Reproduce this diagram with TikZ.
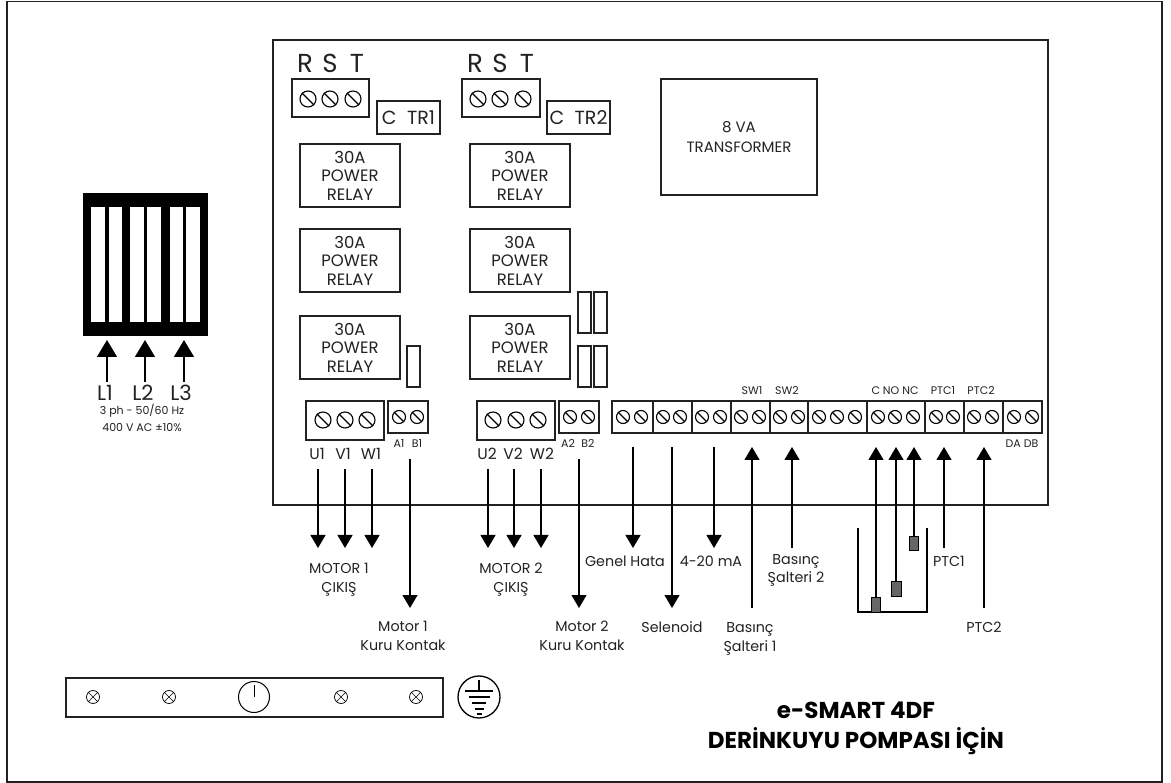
\documentclass[tikz,border=0pt]{standalone}
\usepackage{fontspec}
\setmainfont{Poppins}
\usetikzlibrary{arrows.meta}
\definecolor{ink}{HTML}{222222}
\tikzset{
  x=1pt,y=-1pt,
  boxn/.style={draw=ink,line width=1.3pt,inner sep=0pt,align=center,text=ink},
  boardn/.style={line width=1.1pt},
  relayfont/.style={font=\fontsize{16.5}{18.5}\selectfont},
  tagfont/.style={font=\fontsize{19}{20}\selectfont},
  trafofont/.style={font=\fontsize{15}{20}\selectfont},
  screwn/.style={circle,draw=black,line width=1.1pt,inner sep=0pt},
  smallscrew/.style={circle,draw=black,line width=0.7pt,inner sep=0pt,minimum size=13pt},
  txt/.style={anchor=base,align=center,inner sep=0pt,text=ink,font=\fontsize{14.3}{18.5}\selectfont},
  big/.style={txt,font=\fontsize{21}{24}\selectfont},
  rst/.style={txt,font=\fontsize{26}{28}\selectfont},
  uvw/.style={txt,font=\fontsize{15.5}{18}\selectfont},
  tiny/.style={txt,font=\fontsize{11}{13}\selectfont},
  wire/.style={draw=black,line width=1.2pt},
  arr/.style={wire,-{Triangle[length=13pt,width=15pt]}},
  arrbig/.style={wire,-{Triangle[length=17pt,width=20pt]}},
  floatn/.style={boxn,draw=black,fill=black!60,line width=1pt},
  titlen/.style={anchor=base,align=center,inner sep=0pt,font=\fontsize{23}{30}\selectfont\bfseries},
}
% [style], name, x1, y1, x2, y2, text
\newcommand{\bx}[6][]{\node[boxn,#1,minimum width=#5pt-#3pt,minimum height=#6pt-#4pt] (#2) at ({(#3+#5)/2},{(#4+#6)/2})}
\newcommand{\scr}[4]{\node[screwn,minimum size=#4pt] (#1) at (#2,#3) {};\draw[line width=1.1pt] (#1.135) -- (#1.-45);}
\begin{document}
\begin{tikzpicture}
\useasboundingbox (0,0) rectangle (1171,783);
\fill[white] (0,0) rectangle (1171,783);
\bx{frame}{7}{1.5}{1162}{782} {};
\bx[boardn]{board}{273}{40}{1048}{505} {};
% left breaker
\node[fill=black,minimum width=125pt,minimum height=143pt,inner sep=0pt] (brk) at (145.5,264.5) {};
\foreach \n/\a/\b in {a/91/105,b/108.5/121.7,c/130.3/143.7,d/147/160.7,e/169.7/182.7,f/186/200}{
  \node[fill=white,minimum width=\b pt-\a pt,minimum height=115pt,inner sep=0pt] (slot\n) at ({(\a+\b)/2},264.5) {};
}
\foreach \n/\x in {1/107,2/145,3/184}{
  \coordinate (Ltip\n) at (\x,340);
  \coordinate (Lend\n) at (\x,382);
  \draw[arrbig] (Lend\n) -- (Ltip\n);
}
\node[big] (L1) at (105,400.5) {L1};
\node[big] (L2) at (143,400.5) {L2};
\node[big] (L3) at (181,400.5) {L3};
\node[tiny] (sup1) at (142,415) {3 ph - 50/60 Hz};
\node[tiny] (sup2) at (142,432) {400 V AC ±10\%};
% RST groups
\node[rst] (R1) at (305,73) {R};
\node[rst] (S1) at (330,73) {S};
\node[rst] (T1) at (357,73) {T};
\node[rst] (R2) at (475,73) {R};
\node[rst] (S2) at (500,73) {S};
\node[rst] (T2) at (527,73) {T};
\bx{rst1}{292}{79}{369}{117} {};
\bx{rst2}{462}{79}{540}{117} {};
\scr{ra}{308}{99}{16}\scr{rb}{330}{99}{16}\scr{rc}{353}{99}{16}
\scr{rd}{478}{99}{16}\scr{re}{500}{99}{16}\scr{rf}{523}{99}{16}
\bx[tagfont]{tr1}{377}{101}{440}{134} {C\hspace{0.55em}TR1};
\bx[tagfont]{tr2}{547}{101}{610}{134} {C\hspace{0.55em}TR2};
% relays
\foreach \n/\a/\b in {1/144/207,2/229/292,3/316/379}{
  \bx[relayfont]{rl\n}{300}{\a}{400}{\b} {30A\\POWER\\RELAY};
  \bx[relayfont]{rr\n}{470}{\a}{570}{\b} {30A\\POWER\\RELAY};
}
\bx{fa}{407}{346}{420}{387} {};
\bx{fb}{578}{346}{591}{387} {};
\bx{fc}{594}{346}{607}{387} {};
\bx{fd}{578}{292}{591}{333} {};
\bx{fe}{594}{292}{607}{333} {};
\bx[trafofont]{trafo}{661}{79}{817}{195} {8 VA\\TRANSFORMER};
% output terminals
\bx{u1box}{306}{401}{384}{440} {};
\bx{a1box}{388}{401}{428}{433} {};
\bx{u2box}{477}{401}{555}{440} {};
\bx{a2box}{559}{401}{599}{433} {};
\scr{ua}{323}{420}{16}\scr{ub}{345}{420}{16}\scr{uc}{367}{420}{16}
\scr{ud}{493}{420}{16}\scr{ue}{516}{420}{16}\scr{uf}{538}{420}{16}
\scr{aa}{399}{417}{13}\scr{ab}{417}{417}{13}\scr{ac}{570}{417}{13}\scr{ad}{588}{417}{13}
\node[uvw] (U1) at (317,460) {U1};
\node[uvw] (V1) at (343,460) {V1};
\node[uvw] (W1) at (371,460) {W1};
\node[uvw] (U2) at (487,460) {U2};
\node[uvw] (V2) at (513,460) {V2};
\node[uvw] (W2) at (542,460) {W2};
\node[tiny] (A1) at (399,448) {A1};
\node[tiny] (B1) at (417,448) {B1};
\node[tiny] (A2) at (568,448) {A2};
\node[tiny] (B2) at (588,448) {B2};
% terminal strip
\bx{strip}{612}{401}{1042}{433} {};
\foreach \n/\x in {a/653,b/692,c/731,d/770,e/808,f/867,g/925,h/964,i/1003}{
  \coordinate (dt\n) at (\x,401); \coordinate (db\n) at (\x,433);
  \draw[draw=ink,line width=1.3pt] (dt\n) -- (db\n);
}
\foreach \n/\x in {1/623,2/641,3/663,4/680,5/702,6/720,7/741,8/759,9/780,10/798,11/819,12/837,13/855,14/878,15/895,16/913,17/936,18/953,19/974,20/992,21/1014,22/1032}{
  \scr{t\n}{\x}{417}{13}
}
\node[tiny] (sw1) at (752,395) {SW1};
\node[tiny] (sw2) at (787,395) {SW2};
\node[tiny] (cnonc) at (895,395) {C NO NC};
\node[tiny] (ptcx1) at (943,395) {PTC1};
\node[tiny] (ptcx2) at (981,395) {PTC2};
\node[tiny] (dadb) at (1022,448) {DA DB};
% motor arrows
\foreach \n/\x/\a/\b in {m1/318/469/548,m2/345/469/548,m3/372/469/548,m4/410/459/608,m5/488/469/548,m6/514/469/548,m7/541/469/548,m8/579/459/608,s1/633/447/548,s2/672/447/608,s3/714/447/548}{
  \coordinate (\n a) at (\x,\a); \coordinate (\n b) at (\x,\b);
  \draw[arr] (\n a) -- (\n b);
}
\foreach \n/\x/\a/\b in {i1/752/447/608,i2/792/447/548,i3/944/447/548,i4/984/447/608}{
  \coordinate (\n a) at (\x,\a); \coordinate (\n b) at (\x,\b);
  \draw[arr] (\n b) -- (\n a);
}
% tank
\coordinate (tka) at (858,528); \coordinate (tkb) at (858,612); \coordinate (tkc) at (927,612); \coordinate (tkd) at (927,528);
\draw[wire] (tka) -- (tkb) -- (tkc) -- (tkd);
\bx[floatn]{fl1}{871.5}{597}{880.5}{612} {};
\bx[floatn]{fl2}{891}{581}{901}{596} {};
\bx[floatn]{fl3}{909.5}{537}{918.5}{551} {};
\coordinate (tipc) at (876,447); \coordinate (tipn) at (896,447); \coordinate (tipo) at (914,447);
\draw[arr] (fl1.north) -- (tipc);
\draw[arr] (fl2.north) -- (tipn);
\draw[arr] (fl3.north) -- (tipo);
% labels (anchor is the baseline of the last line)
\node[txt] (lm1) at (339,592) {MOTOR 1\\ÇIKIŞ};
\node[txt] (lm2) at (511,592) {MOTOR 2\\ÇIKIŞ};
\node[txt] (lk1) at (403,650) {Motor 1\\Kuru Kontak};
\node[txt] (lk2) at (582,650) {Motor 2\\Kuru Kontak};
\node[txt] (lg) at (625,566) {Genel Hata};
\node[txt] (ls) at (672,632) {Selenoid};
\node[txt] (l4) at (711,566) {4-20 mA};
\node[txt] (lb1) at (750,651) {Basınç\\Şalteri 1};
\node[txt] (lb2) at (796,583) {Basınç\\Şalteri 2};
\node[txt] (lp1) at (949,566) {PTC1};
\node[txt] (lp2) at (984,632) {PTC2};
% bottom bar
\bx{bar}{66}{678}{443}{717} {};
\foreach \n/\x in {1/93,2/169,3/341,4/416}{
  \node[smallscrew] (bs\n) at (\x,697) {};
  \draw[line width=0.7pt] (bs\n.45) -- (bs\n.225) (bs\n.135) -- (bs\n.-45);
}
\node[circle,draw=black,line width=1pt,minimum size=31pt,inner sep=0pt] (sw) at (254,697) {};
\coordinate (swt) at (254,685);
\draw[line width=1pt] (swt) -- (sw.center);
\node[circle,draw=black,line width=1.3pt,minimum size=42pt,inner sep=0pt] (earth) at (479,697) {};
\coordinate (ea) at (479,680); \coordinate (eb) at (479,691);
\draw[line width=1.2pt] (ea) -- (eb);
\foreach \n/\h/\y in {1/14/691,2/10.5/697,3/7/703,4/4.5/709,5/2.5/714}{
  \coordinate (el\n) at (479-\h,\y); \coordinate (er\n) at (479+\h,\y);
  \draw[line width=1.2pt] (el\n) -- (er\n);
}
% title
\node[titlen] (title) at (856,748) {e-SMART 4DF\\DERİNKUYU POMPASI İÇİN};
\end{tikzpicture}
\end{document}
